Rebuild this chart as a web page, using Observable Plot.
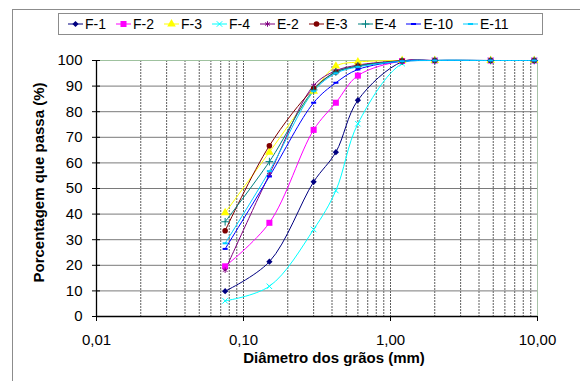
<!DOCTYPE html>
<html>
<head>
<meta charset="utf-8">
<script src="https://cdn.jsdelivr.net/npm/d3@7"></script>
<script src="https://cdn.jsdelivr.net/npm/@observablehq/plot@0.6"></script>
<style>
  html, body { margin: 0; padding: 0; background: #fff; }
  #chart { position: relative; width: 580px; height: 381px; overflow: hidden; font-family: "Liberation Sans", Arial, sans-serif; }
  #chart svg.plot { position: absolute; left: 0; top: 0; }
  #frame { position: absolute; left: 12px; top: 9px; width: 600px; height: 400px; border: 1px solid #8c8c8c; pointer-events: none; }
  #legend { position: absolute; left: 58px; top: 13px; width: 474px; height: 20px; border: 1px solid #8c8c8c; background: #fff;
            display: flex; align-items: center; padding-left: 9px; box-sizing: content-box; font-size: 14px; color: #000; }
  #legend .item { display: flex; align-items: center; margin-right: 10px; }
  #legend svg { margin-right: 2px; overflow: visible; }
</style>
</head>
<body>
<div id="chart"></div>
<script>
// Sieve openings (mm)
const sieves = [0.075, 0.15, 0.3, 0.425, 0.6, 1.2, 2.0, 4.8, 9.5];

// Percentage passing for each sample
const seriesNames = ["F-1", "F-2", "F-3", "F-4", "E-2", "E-3", "E-4", "E-10", "E-11"];
const f1  = [9.9, 21.4, 52.6, 64.2, 84.5, 99.5, 100, 100, 100];
const f2  = [19.6, 36.6, 72.9, 83.5, 94.1, 99.8, 100, 100, 100];
const f3  = [40.5, 64.2, 88.0, 97.8, 99.4, 100, 100, 100, 100];
const f4  = [6.1, 11.8, 34.0, 49.2, 75.3, 98.8, 100, 100, 100];
const e2  = [18.1, 55.5, 90.2, 96.0, 98.2, 99.9, 100, 100, 100];
const e3  = [33.5, 66.7, 89.0, 95.5, 97.8, 99.9, 100, 100, 100];
const e4  = [37.0, 60.5, 88.5, 95.5, 97.8, 99.8, 100, 100, 100];
const e10 = [26.4, 54.7, 83.5, 91.3, 96.5, 99.7, 100, 100, 100];
const e11 = [28.6, 56.8, 88.0, 95.0, 97.5, 99.7, 100, 100, 100];
const seriesValues = [f1, f2, f3, f4, e2, e3, e4, e10, e11];

// Axis ticks
const yTicks = [0, 10, 20, 30, 40, 50, 60, 70, 80, 90, 100];
const xTicks = [0.01, 0.1, 1, 10];
const xTickLabels = ["0,01", "0,10", "1,00", "10,00"];

// Styling per series
const colors = ["#000080", "#ff00ff", "#ffff00", "#00ffff", "#800080", "#800000", "#008080", "#0000ff", "#00ccff"];

// Short horizontal bar marker
const dash = {
  draw(context, size) {
    const w = Math.sqrt(size) * 1.1;
    context.rect(-w / 2, -1, w, 2);
  }
};
const markers = [
  {symbol: d3.symbolDiamond2, filled: true, r: 2.8},
  {symbol: d3.symbolSquare, filled: true, r: 3.4},
  {symbol: d3.symbolTriangle, filled: true, r: 3.2},
  {symbol: d3.symbolTimes, filled: false, r: 2.6},
  {symbol: d3.symbolAsterisk, filled: false, r: 2.6},
  {symbol: d3.symbolCircle, filled: true, r: 2.8},
  {symbol: d3.symbolPlus, filled: false, r: 2.6},
  {symbol: dash, filled: true, r: 2.6},
  {symbol: dash, filled: true, r: 2.6}
];

const rows = seriesNames.flatMap((name, i) =>
  sieves.map((d, j) => ({series: name, d, p: seriesValues[i][j]})));

// Minor grid: 1..9 per decade
const gridX = [];
for (const base of [0.01, 0.1, 1]) for (let k = 1; k <= 9; k++) gridX.push(+(base * k).toPrecision(3));
gridX.push(10);
const gridXInner = gridX.filter(v => v > 0.01 && v < 10);

const font = "'Liberation Sans', Arial, sans-serif";

const marks = [
  Plot.ruleX(gridXInner, {stroke: "#5e5e5e", strokeWidth: 1, strokeDasharray: "2,1"}),
  Plot.ruleY(yTicks.filter(v => v > 0 && v < 100), {stroke: "#7a7a7a", strokeWidth: 1}),
  Plot.ruleY([100], {stroke: "#9fc29f", strokeWidth: 1}),
  Plot.ruleX([10], {stroke: "#a8c4a8", strokeWidth: 1}),
  Plot.line(rows, {x: "d", y: "p", z: "series", stroke: "series", strokeWidth: 1, curve: "catmull-rom"})
];
seriesNames.forEach((name, i) => {
  const m = markers[i];
  const data = rows.filter(r => r.series === name);
  marks.push(Plot.dot(data, m.filled
    ? {x: "d", y: "p", symbol: m.symbol, r: m.r, fill: colors[i], stroke: "none"}
    : {x: "d", y: "p", symbol: m.symbol, r: m.r, fill: "none", stroke: colors[i], strokeWidth: 1}));
});
marks.push(
  Plot.ruleX([0.01], {stroke: "#000", strokeWidth: 1.3}),
  Plot.ruleY([0], {stroke: "#000", strokeWidth: 1.3}),
  // tick marks crossing the y axis, then their labels
  Plot.axisY({ticks: yTicks, tickSize: 8, dx: 4, stroke: "#000", tickFormat: () => "", label: null}),
  Plot.axisY({ticks: yTicks, tickSize: 0, tickPadding: 14, fontSize: 15, fill: "#000", label: null}),
  Plot.axisX({ticks: xTicks, tickSize: 5, tickPadding: 13, fontSize: 15, fill: "#000", stroke: "#000", label: null,
    tickFormat: v => xTickLabels[xTicks.indexOf(v)]}),
  Plot.text(["Diâmetro dos grãos (mm)"], {frameAnchor: "bottom", lineAnchor: "middle", dy: 42, dx: 17,
    fontSize: 15, fontWeight: "bold", fill: "#000"}),
  Plot.text(["Porcentagem que passa (%)"], {frameAnchor: "left", textAnchor: "middle", lineAnchor: "middle",
    dx: -57, dy: -6, rotate: -90, fontSize: 15, fontWeight: "bold", fill: "#000"})
);

const plot = Plot.plot({
  width: 580,
  height: 381,
  marginLeft: 96,
  marginRight: 43,
  marginTop: 60,
  marginBottom: 65,
  style: {fontFamily: font, background: "transparent", overflow: "visible"},
  x: {type: "log", domain: [0.01, 10]},
  y: {domain: [0, 100]},
  color: {domain: seriesNames, range: colors},
  marks
});
plot.classList.add("plot");

const chart = document.getElementById("chart");
chart.appendChild(plot);

const frame = document.createElement("div");
frame.id = "frame";
chart.appendChild(frame);

// Legend
const legend = document.createElement("div");
legend.id = "legend";
seriesNames.forEach((name, i) => {
  const item = document.createElement("div");
  item.className = "item";
  const m = markers[i];
  const s = d3.create("svg").attr("width", 15).attr("height", 10);
  s.append("line").attr("x1", 0).attr("x2", 15).attr("y1", 5).attr("y2", 5)
    .attr("stroke", colors[i]).attr("stroke-width", 1);
  s.append("path")
    .attr("transform", "translate(7.5,5)")
    .attr("d", d3.symbol(m.symbol, m.r * m.r * Math.PI)())
    .attr("fill", m.filled ? colors[i] : "none")
    .attr("stroke", m.filled ? "none" : colors[i]);
  item.appendChild(s.node());
  const t = document.createElement("span");
  t.textContent = name;
  item.appendChild(t);
  legend.appendChild(item);
});
chart.appendChild(legend);
</script>
</body>
</html>
